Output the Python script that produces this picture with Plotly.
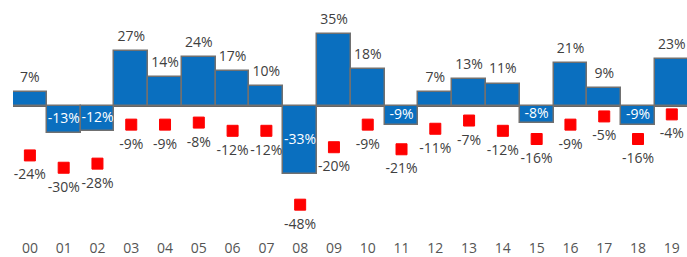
import plotly.graph_objects as go

years = ["00","01","02","03","04","05","06","07","08","09",
         "10","11","12","13","14","15","16","17","18","19"]
annual_returns = [7, -13, -12, 27, 14, 24, 17, 10, -33, 35,
                  18, -9, 7, 13, 11, -8, 21, 9, -9, 23]
intra_year_drops = [-24, -30, -28, -9, -9, -8, -12, -12, -48, -20,
                    -9, -21, -11, -7, -12, -16, -9, -5, -16, -4]

FONT = "Open Sans"
TXT = "#404040"

pos_x = [y for y, v in zip(years, annual_returns) if v >= 0]
pos_v = [v for v in annual_returns if v >= 0]
neg_x = [y for y, v in zip(years, annual_returns) if v < 0]
neg_v = [v for v in annual_returns if v < 0]

fig = go.Figure()
fig.add_trace(go.Bar(
    x=years, y=annual_returns,
    marker=dict(color="#0A6FBF", line=dict(color="#707070", width=1.5)),
    hoverinfo="skip",
))
fig.add_trace(go.Scatter(
    x=pos_x, y=pos_v, mode="markers+text",
    marker=dict(size=9, opacity=0),
    text=[f"{v}%" for v in pos_v], textposition="top center",
    textfont=dict(family=FONT, size=14, color=TXT),
    hoverinfo="skip",
))
fig.add_trace(go.Scatter(
    x=neg_x, y=[v / 2 for v in neg_v], mode="text",
    text=[f"{v}%" for v in neg_v], textposition="middle center",
    textfont=dict(family=FONT, size=14, color="white"),
    hoverinfo="skip",
))
fig.add_trace(go.Scatter(
    x=years, y=intra_year_drops, mode="markers",
    marker=dict(symbol="square", size=11, color="#FF0000",
                line=dict(color="#FF0000", width=1)),
    hoverinfo="skip",
))
fig.add_trace(go.Scatter(
    x=years, y=intra_year_drops, mode="markers+text",
    marker=dict(size=20, opacity=0),
    text=[f"{v}%" for v in intra_year_drops], textposition="bottom center",
    textfont=dict(family=FONT, size=14, color=TXT),
    hoverinfo="skip",
))

fig.update_layout(
    width=687, height=257,
    margin=dict(l=12.6, r=0, t=13, b=22),
    paper_bgcolor="white", plot_bgcolor="white",
    showlegend=False, bargap=0,
    font=dict(family=FONT, color=TXT),
    xaxis=dict(type="category", range=[-0.5, 19.45], showgrid=False,
               showline=False, ticks="", ticklabelstandoff=5,
               tickfont=dict(family=FONT, size=14, color="#555555")),
    yaxis=dict(range=[-61.8, 45.4], showgrid=False, showticklabels=False,
               zeroline=True, zerolinecolor="#666666", zerolinewidth=2),
)

fig.write_html("out.html", config={"displayModeBar": False},
               post_script="document.body.style.margin='0';document.body.style.overflow='hidden';")
